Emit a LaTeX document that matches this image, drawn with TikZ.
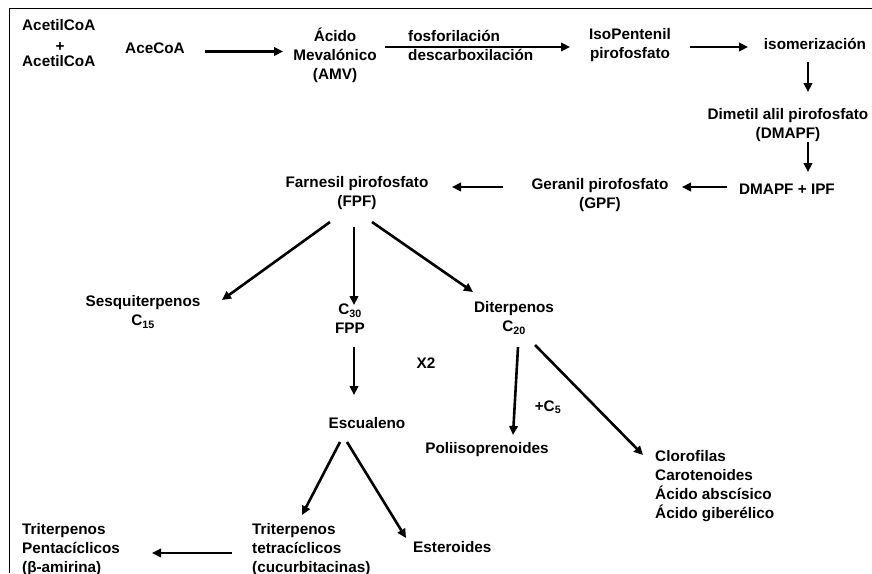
\documentclass[tikz,border=0pt]{standalone}
\usepackage{fontspec}
\setmainfont{Liberation Sans}
\usetikzlibrary{arrows.meta}
\begin{document}
\begin{tikzpicture}[x=1pt,y=-1pt,
  txt/.style={font=\fontsize{15.3}{19}\selectfont\bfseries, inner sep=0pt, align=center},
  txl/.style={txt, align=left, anchor=west},
  arr/.style={line width=2.6pt, -{Triangle[length=9pt,width=8.5pt]}},
  frame/.style={line width=1.8pt}]
\useasboundingbox (0,0) rectangle (872,573);
\draw[frame] (9.5,573) -- (9.5,8.5) -- (872,8.5);

\node[txl] (ac1) at (22,25) {AcetilCoA};
\node[txt] (plus) at (60,47) {+};
\node[txl] (ac2) at (22,61) {AcetilCoA};
\node[txt] (acecoa) at (155,48) {AceCoA};
\node[txt] (amv) at (335,55) {Ácido\\Mevalónico\\(AMV)};
\node[txl] (fos) at (408,45) {fosforilación\\descarboxilación};
\node[txt] (ipp) at (630,45) {IsoPentenil\\pirofosfato};
\node[txt] (iso) at (815,43.5) {isomerización};
\node[txt] (dmapf) at (788,125) {Dimetil alil pirofosfato\\(DMAPF)};
\node[txt] (dmipf) at (787,189.5) {DMAPF + IPF};
\node[txt] (gpf) at (600,195) {Geranil pirofosfato\\(GPF)};
\node[txt] (fpf) at (357,193) {Farnesil pirofosfato\\(FPF)};
\node[txt] (sesq) at (143,312) {Sesquiterpenos\\C\textsubscript{15}};
\node[txt] (c30) at (350,319) {C\textsubscript{30}\\FPP};
\node[txt] (dit) at (514,318) {Diterpenos\\C\textsubscript{20}};
\node[txt] (x2) at (426,363) {X2};
\node[txt] (esc) at (367,423) {Escualeno};
\node[txt] (plusc) at (548,407) {+C\textsubscript{5}};
\node[txt] (poli) at (487,450) {Poliisoprenoides};
\node[txl] (cloro) at (655,486.5) {Clorofilas\\Carotenoides\\Ácido abscísico\\Ácido giberélico};
\node[txl] (ester) at (413,547) {Esteroides};
\node[txl] (tetra) at (252,550) {Triterpenos\\tetracíclicos\\(cucurbitacinas)};
\node[txl] (penta) at (22,550) {Triterpenos\\Pentacíclicos\\(β-amirina)};

\draw[arr] ([shift={(50,3.5)}]acecoa.center) -- ([shift={(-52,-3.5)}]amv.center);
\draw[arr] ([shift={(50,-8)}]amv.center) -- ([shift={(-60,2)}]ipp.center);
\draw[arr] ([shift={(60,2)}]ipp.center) -- ([shift={(-67,3.5)}]iso.center);
\draw[arr] ([shift={(-7,18.5)}]iso.center) -- ([shift={(20,-33)}]dmapf.center);
\draw[arr] ([shift={(20,17)}]dmapf.center) -- ([shift={(21,-17.5)}]dmipf.center);
\draw[arr] ([shift={(-60,-2.5)}]dmipf.center) -- ([shift={(82,-8)}]gpf.center);
\draw[arr] ([shift={(-97,-8)}]gpf.center) -- ([shift={(95,-6)}]fpf.center);
\draw[arr] ([shift={(-27,29)}]fpf.center) -- ([shift={(79,-12)}]sesq.center);
\draw[arr] ([shift={(-3,34)}]fpf.center) -- ([shift={(4,-14)}]c30.center);
\draw[arr] ([shift={(15,29)}]fpf.center) -- ([shift={(-41,-26)}]dit.center);
\draw[arr] ([shift={(4,28)}]c30.center) -- ([shift={(-13,-28)}]esc.center);
\draw[arr] ([shift={(4,29)}]dit.center) -- ([shift={(26,-15)}]poli.center);
\draw[arr] ([shift={(21,27)}]dit.center) -- ([shift={(-12,-31.5)}]cloro.west);
\draw[arr] ([shift={(-27,19)}]esc.center) -- ([shift={(50,-35)}]tetra.west);
\draw[arr] ([shift={(-20,19)}]esc.center) -- ([shift={(-7,-9)}]ester.west);
\draw[arr] ([shift={(-20,3)}]tetra.west) -- ([shift={(130,3)}]penta.west);
\end{tikzpicture}
\end{document}
